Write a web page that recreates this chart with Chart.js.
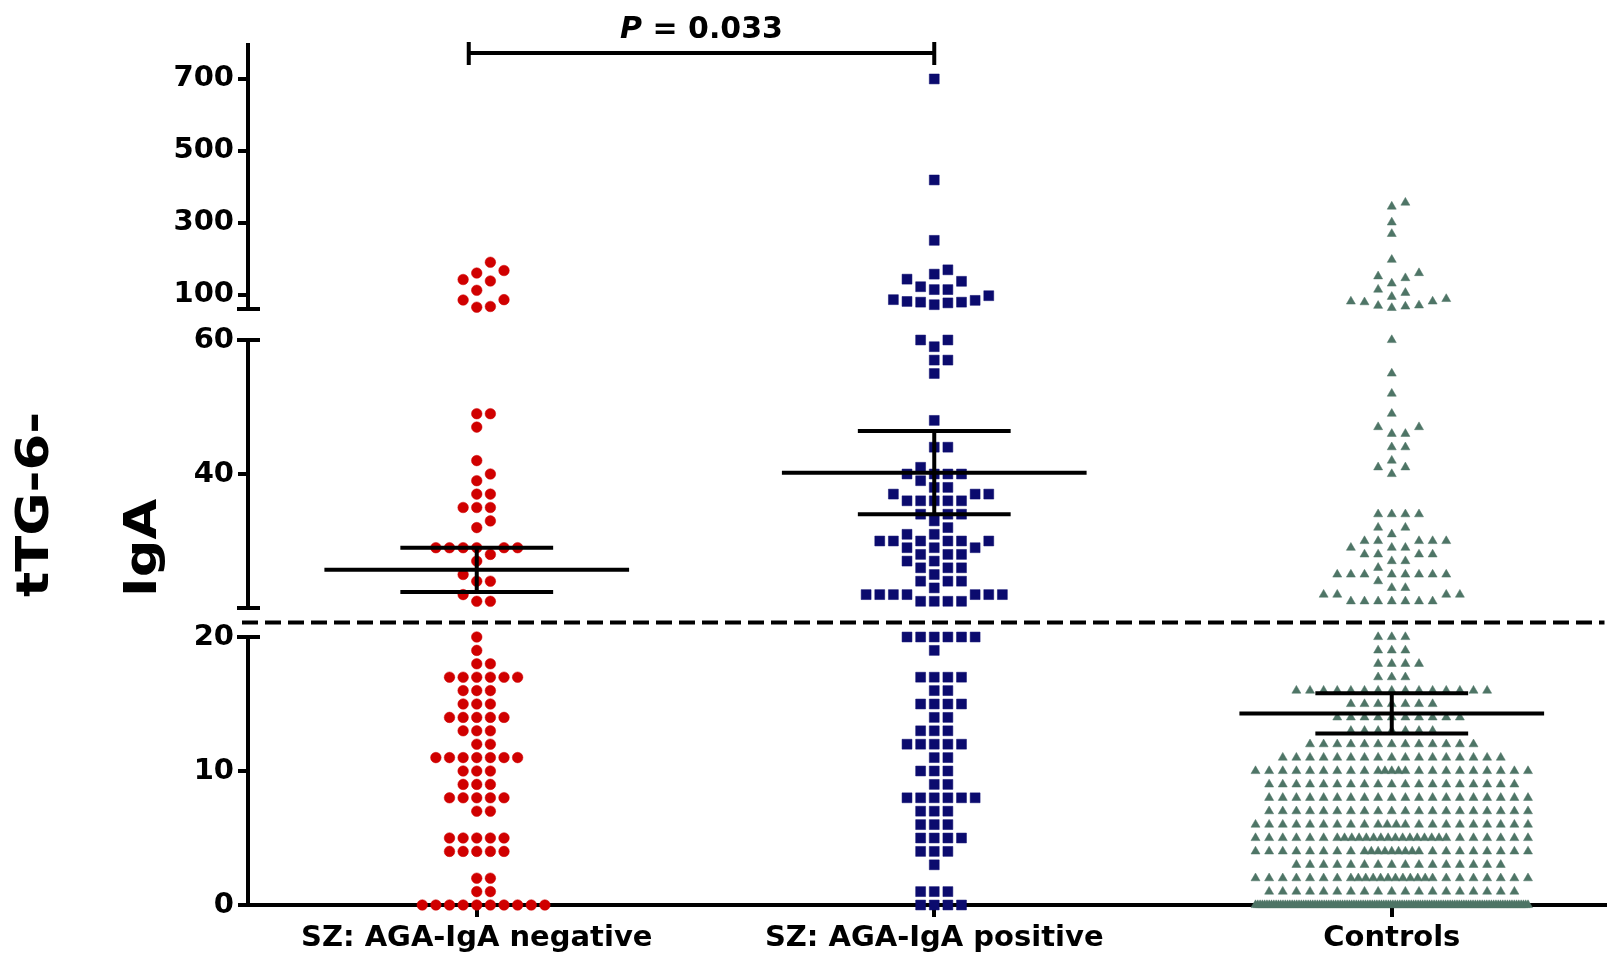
<!DOCTYPE html>
<html>
<head>
<meta charset="utf-8">
<script src="https://cdn.jsdelivr.net/npm/chart.js@4.4.0/dist/chart.umd.min.js"></script>
<style>
html, body { margin: 0; padding: 0; background: #fff; }
</style>
</head>
<body>
<canvas id="chart1" width="1612" height="954"></canvas>
<script>
var groupNames = ['SZ: AGA-IgA negative', 'SZ: AGA-IgA positive', 'Controls'];

// values: level -> how many dots sit at that level
var negLevels = [0, 1, 2, 4, 5, 7, 8, 9, 10, 11, 12, 13, 14, 15, 16, 17, 18, 19, 20,
    21, 22, 24, 25, 27, 28, 29, 32, 33, 35, 37, 39, 40, 42, 47, 49,
    65, 67, 85, 86, 112, 138, 142, 160, 167, 190];
var negCounts = [10, 2, 2, 5, 5, 2, 5, 3, 3, 7, 2, 3, 5, 3, 3, 6, 2, 1, 1,
    2, 1, 2, 1, 1, 1, 6, 1, 1, 3, 2, 1, 1, 1, 1, 2,
    1, 1, 1, 1, 1, 1, 1, 1, 1, 1];

var posLevels = [0, 1, 3, 4, 5, 6, 7, 8, 9, 10, 11, 12, 13, 14, 15, 16, 17, 19, 20,
    21, 22, 23, 24, 25, 26, 27, 28, 29, 30, 31, 32, 33, 34, 36, 37, 38, 39, 40, 41, 44, 48, 55, 57, 59, 60,
    72, 77, 79, 81, 84, 86, 97, 114, 122, 137, 143, 157, 169, 251, 419, 700];
var posCounts = [4, 3, 1, 3, 4, 3, 3, 6, 2, 3, 2, 5, 3, 2, 4, 2, 4, 1, 6,
    4, 7, 1, 3, 1, 3, 2, 3, 3, 6, 2, 1, 1, 3, 5, 3, 2, 1, 4, 1, 2, 1, 1, 2, 1, 2,
    1, 1, 2, 1, 1, 1, 1, 2, 1, 1, 1, 1, 1, 1, 1, 1];

var ctlLevels = [0, 1, 2, 3, 4, 5, 6, 7, 8, 9, 10, 11, 12, 13, 14, 15, 16, 17, 18, 19, 20,
    21, 22, 23, 24, 25, 26, 27, 28, 29, 30, 31, 32, 34, 40, 41, 42, 44, 46, 47, 49, 52, 55, 60,
    63, 67, 69, 70, 79, 81, 88, 94, 105, 114, 131, 146, 151, 160, 197, 269, 301, 345, 356];
var ctlCounts = [120, 19, 26, 16, 25, 28, 22, 20, 20, 19, 23, 17, 13, 7, 10, 7, 15, 3, 4, 3, 3,
    7, 4, 2, 1, 8, 1, 2, 4, 3, 5, 1, 2, 4, 1, 2, 1, 2, 2, 2, 1, 1, 1, 1,
    1, 1, 1, 1, 1, 2, 1, 1, 1, 1, 1, 1, 1, 1, 1, 1, 1, 1, 1];

var groupMeans = [25.7, 40.2, 14.3];
var groupSems = [3.3, 6.2, 1.5];

var yTickValues = [0, 10, 20, 40, 60, 100, 300, 500, 700];
var yTitleLines = ['tTG-6-', 'IgA'];
var pValue = '0.033';

// broken y axis: three pieces laid on one linear scale (1 unit = 1 px)
var pieces = [
    { from: 0, to: 20, start: 0, len: 268 },
    { from: 20, to: 60, start: 297, len: 268 },
    { from: 60, to: 800, start: 596, len: 266 }
];
function toAxis(v) {
    for (var i = 0; i < pieces.length; i++) {
        var p = pieces[i];
        if (v <= p.to || i == pieces.length - 1) {
            return p.start + (v - p.from) / (p.to - p.from) * p.len;
        }
    }
}

var xMin = 0.5, xMax = 3.465;
var xUnitPx = (1612 - 248) / (xMax - xMin);
var slotPx = 13.7, markPx = 11, maxRow = 21;

// slot positions for a crowded row: outer slots regular, middle squeezed
function crowdedRow(n) {
    var half = (maxRow - 1) / 2, r, cm;
    for (r = 1; r <= half + 1; r++) {
        cm = n - (2 * half + 2 - 2 * r);
        if (r == half + 1 || cm <= 4 * r - 3) break;
    }
    var out = [];
    for (var q = r; q <= half; q++) { out.push(-q); out.push(q); }
    for (var j = 0; j < cm; j++) out.push(-(r - 1) + j * (2 * r - 2) / (cm - 1));
    return out;
}

// Prism style column scatter: same level goes side by side, 0, +1, -1, +2 ...
function swarm(levels, counts, gx) {
    var pts = [], placed = [];
    var half = (maxRow - 1) / 2;
    for (var i = 0; i < levels.length; i++) {
        var n = counts[i], yy = toAxis(levels[i]);
        if (n > maxRow) {
            crowdedRow(n).forEach(function (s) {
                pts.push({ x: gx + s * slotPx / xUnitPx, y: yy });
            });
            for (var q = -half; q <= half; q++) placed.push({ s: q, y: yy });
            continue;
        }
        for (var k = 0; k < n; k++) {
            for (var j = 0; j < 200; j++) {
                var s = j % 2 ? (j + 1) / 2 : -j / 2;
                var hit = placed.some(function (p) { return p.s === s && Math.abs(p.y - yy) < markPx; });
                if (!hit) {
                    placed.push({ s: s, y: yy });
                    pts.push({ x: gx + s * slotPx / xUnitPx, y: yy });
                    break;
                }
            }
        }
    }
    return pts;
}

function meanBar(i) {
    var gx = i + 1, m = groupMeans[i], s = groupSems[i];
    var ym = toAxis(m), yh = toAxis(m + s), yl = toAxis(m - s);
    return [
        { x: gx - 0.333, y: ym }, { x: gx + 0.333, y: ym }, { x: gx, y: null },
        { x: gx - 0.167, y: yh }, { x: gx + 0.167, y: yh }, { x: gx, y: null },
        { x: gx - 0.167, y: yl }, { x: gx + 0.167, y: yl }, { x: gx, y: null },
        { x: gx, y: yh }, { x: gx, y: yl }
    ];
}

var fontName = '"DejaVu Sans", "Liberation Sans", Arial, sans-serif';

var brokenAxis = {
    id: 'brokenAxis',
    beforeDraw: function (chart) {
        var c = chart.ctx;
        c.save();
        c.fillStyle = '#fff';
        c.fillRect(0, 0, chart.width, chart.height);
        c.restore();
    },
    afterDraw: function (chart) {
        var c = chart.ctx, y = chart.scales.y, x = chart.scales.x, area = chart.chartArea;
        var ax = area.left;
        c.save();
        c.strokeStyle = '#000';
        c.lineWidth = 4;
        c.lineCap = 'butt';
        pieces.forEach(function (p, i) {
            var bot = y.getPixelForValue(p.start), top = y.getPixelForValue(p.start + p.len);
            c.beginPath(); c.moveTo(ax, bot + (i == 0 ? 2 : 0)); c.lineTo(ax, top); c.stroke();
            if (i > 0) { c.beginPath(); c.moveTo(ax - 11, bot); c.lineTo(ax + 12, bot); c.stroke(); }
            if (i < pieces.length - 1) { c.beginPath(); c.moveTo(ax - 11, top); c.lineTo(ax + 12, top); c.stroke(); }
        });

        // cut-off line in the first gap
        var yd = (y.getPixelForValue(pieces[0].start + pieces[0].len) + y.getPixelForValue(pieces[1].start)) / 2;
        c.setLineDash([16, 7]);
        c.beginPath(); c.moveTo(ax - 6, yd); c.lineTo(area.right, yd); c.stroke();
        c.setLineDash([]);

        // significance bracket
        var x1 = x.getPixelForValue(1) - 8, x2 = x.getPixelForValue(2), yb = area.top + 10;
        c.beginPath();
        c.moveTo(x1, yb); c.lineTo(x2, yb);
        c.moveTo(x1, area.top - 1); c.lineTo(x1, area.top + 22);
        c.moveTo(x2, area.top - 1); c.lineTo(x2, area.top + 22);
        c.stroke();

        c.fillStyle = '#000';
        c.textBaseline = 'alphabetic';
        c.textAlign = 'left';
        var f1 = 'italic bold 30px ' + fontName, f2 = 'bold 30px ' + fontName;
        c.font = f1; var w1 = c.measureText('P').width;
        c.font = f2; var rest = ' = ' + pValue; var w2 = c.measureText(rest).width;
        var tx = (x1 + x2) / 2 - (w1 + w2) / 2;
        c.font = f1; c.fillText('P', tx, 38);
        c.font = f2; c.fillText(rest, tx + w1, 38);

        // y title, two lines, rotated
        c.font = 'bold 44px ' + fontName;
        var bases = [48, 156];
        yTitleLines.forEach(function (t, i) {
            c.save();
            c.translate(bases[i], 597);
            c.rotate(-Math.PI / 2);
            c.scale(1.2, 1);
            c.fillText(t, 0, 0);
            c.restore();
        });
        c.restore();
    }
};

var ctx = document.getElementById('chart1').getContext('2d');
var chart1 = new Chart(ctx, {
    type: 'scatter',
    data: {
        datasets: [
            { label: 'mean', data: meanBar(0), showLine: true, borderColor: '#000', borderWidth: 4, pointRadius: 0, order: 0, clip: false },
            { label: 'mean', data: meanBar(1), showLine: true, borderColor: '#000', borderWidth: 4, pointRadius: 0, order: 0, clip: false },
            { label: 'mean', data: meanBar(2), showLine: true, borderColor: '#000', borderWidth: 4, pointRadius: 0, order: 0, clip: false },
            {
                label: groupNames[0], data: swarm(negLevels, negCounts, 1), order: 1, clip: false,
                pointStyle: 'circle', pointRadius: 5.3, backgroundColor: '#d00000', borderColor: '#d00000', borderWidth: 0.5
            },
            {
                label: groupNames[1], data: swarm(posLevels, posCounts, 2), order: 1, clip: false,
                pointStyle: 'rect', pointRadius: 7, backgroundColor: '#0b0b6e', borderColor: '#0b0b6e', borderWidth: 0.5
            },
            {
                label: groupNames[2], data: swarm(ctlLevels, ctlCounts, 3), order: 1, clip: false,
                pointStyle: 'triangle', pointRadius: 5.2, backgroundColor: '#4e7566', borderColor: '#4e7566', borderWidth: 0.5
            }
        ]
    },
    options: {
        responsive: false,
        animation: false,
        events: [],
        layout: { padding: { top: 43, left: 0, right: 0, bottom: 0 } },
        plugins: { legend: { display: false }, tooltip: { enabled: false } },
        scales: {
            x: {
                type: 'linear', min: xMin, max: xMax,
                afterFit: function (s) { s.height = 49; },
                afterBuildTicks: function (s) { s.ticks = groupNames.map(function (n, i) { return { value: i + 1 }; }); },
                ticks: {
                    autoSkip: false, maxRotation: 0, padding: 4, color: '#000',
                    font: { family: fontName, size: 29, weight: 'bold' },
                    callback: function (v, i) { return groupNames[i]; }
                },
                grid: { drawOnChartArea: false, drawTicks: true, tickLength: 12, lineWidth: 4, color: '#000' },
                border: { display: true, color: '#000', width: 4 }
            },
            y: {
                type: 'linear', min: 0, max: 862,
                afterFit: function (s) { s.width = 248; },
                afterBuildTicks: function (s) { s.ticks = yTickValues.map(function (v) { return { value: toAxis(v) }; }); },
                ticks: {
                    autoSkip: false, padding: 4, color: '#000',
                    font: { family: fontName, size: 29, weight: 'bold' },
                    callback: function (v, i) { return yTickValues[i]; }
                },
                grid: { drawOnChartArea: false, drawTicks: true, tickLength: 10, lineWidth: 4, color: '#000' },
                border: { display: false }
            }
        }
    },
    plugins: [brokenAxis]
});
</script>
</body>
</html>
